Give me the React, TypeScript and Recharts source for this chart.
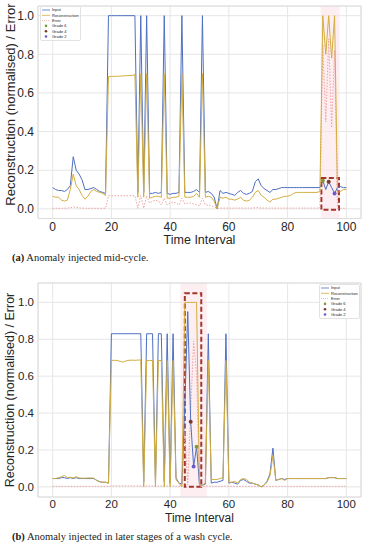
import React from 'react';
import {
  ComposedChart,
  Line,
  Scatter,
  XAxis,
  YAxis,
  CartesianGrid,
  ReferenceArea,
} from 'recharts';

// (a) anomaly injected mid-cycle, one value per time interval 0..100
const inputA = [
  0.11, 0.10, 0.095, 0.095, 0.09, 0.10, 0.12, 0.27, 0.20, 0.18,
  0.15, 0.10, 0.10, 0.105, 0.11, 0.10, 0.09, 0.085, 0.08, 1.0,
  1.0, 1.0, 1.0, 1.0, 1.0, 1.0, 1.0, 1.0, 1.0, 0.085,
  1.0, 0.085, 1.0, 0.08, 0.08, 0.085, 0.08, 0.085, 1.0, 0.08,
  0.075, 0.08, 0.08, 0.085, 1.0, 0.085, 0.085, 0.085, 0.09, 0.10,
  0.085, 1.0, 0.085, 0.09, 0.08, 0.06, 0.0, 0.095, 0.08, 0.085,
  0.08, 0.075, 0.07, 0.085, 0.095, 0.08, 0.075, 0.08, 0.09, 0.14,
  0.155, 0.12, 0.105, 0.095, 0.085, 0.10, 0.10, 0.105, 0.11, 0.11,
  0.11, 0.11, 0.11, 0.11, 0.11, 0.11, 0.11, 0.11, 0.11, 0.11,
  0.11, 0.11, 0.145, 0.10, 0.14, 0.11, 0.08, 0.11, 0.115, 0.11,
  0.11,
];
const reconA = [
  0.065, 0.06, 0.06, 0.045, 0.04, 0.045, 0.10, 0.18, 0.12, 0.10,
  0.07, 0.05, 0.065, 0.09, 0.10, 0.09, 0.085, 0.08, 0.07, 0.685,
  0.685, 0.686, 0.686, 0.687, 0.688, 0.689, 0.69, 0.69, 0.695, 0.06,
  0.70, 0.06, 0.70, 0.055, 0.06, 0.065, 0.065, 0.06, 0.70, 0.055,
  0.055, 0.06, 0.06, 0.065, 0.70, 0.06, 0.06, 0.06, 0.065, 0.08,
  0.06, 0.70, 0.06, 0.065, 0.06, 0.04, 0.0, 0.06, 0.055, 0.06,
  0.05, 0.05, 0.045, 0.05, 0.06, 0.045, 0.04, 0.045, 0.06, 0.085,
  0.095, 0.07, 0.06, 0.045, 0.035, 0.05, 0.05, 0.055, 0.06, 0.065,
  0.065, 0.07, 0.08, 0.085, 0.085, 0.085, 0.085, 0.085, 0.085, 0.085,
  0.085, 0.09, 1.0, 0.80, 1.0, 0.78, 1.0, 0.085, 0.09, 0.10,
  0.10,
];
const errorA = [
  0.003, 0.003, 0.003, 0.003, 0.003, 0.004, 0.006, 0.01, 0.008, 0.005,
  0.004, 0.003, 0.003, 0.003, 0.003, 0.003, 0.003, 0.003, 0.003, 0.068,
  0.068, 0.068, 0.068, 0.068, 0.068, 0.068, 0.068, 0.068, 0.068, 0.003,
  0.068, 0.003, 0.068, 0.03, 0.04, 0.045, 0.04, 0.02, 0.055, 0.02,
  0.03, 0.035, 0.03, 0.02, 0.055, 0.025, 0.03, 0.03, 0.025, 0.02,
  0.015, 0.055, 0.02, 0.02, 0.015, 0.01, 0.003, 0.004, 0.004, 0.004,
  0.004, 0.004, 0.004, 0.004, 0.004, 0.004, 0.004, 0.004, 0.004, 0.006,
  0.006, 0.004, 0.004, 0.004, 0.004, 0.004, 0.004, 0.004, 0.004, 0.004,
  0.004, 0.004, 0.004, 0.004, 0.004, 0.004, 0.004, 0.004, 0.004, 0.004,
  0.004, 0.004, 0.85, 0.45, 0.88, 0.42, 0.82, 0.003, 0.003, 0.003,
  0.003,
];
const grade6A = [{ t: 92, v: 0.145 }];
const grade4A = [{ t: 94, v: 0.14 }];
const grade2A = [{ t: 96, v: 0.08 }];

// (b) anomaly injected in later stages of a wash cycle
const inputB = [
  0.045, 0.045, 0.045, 0.05, 0.05, 0.045, 0.05, 0.045, 0.05, 0.045,
  0.045, 0.045, 0.045, 0.045, 0.045, 0.035, 0.028, 0.025, 0.025, 0.02,
  0.83, 0.83, 0.83, 0.83, 0.83, 0.83, 0.83, 0.83, 0.83, 0.83,
  0.83, 0.025, 0.83, 0.83, 0.83, 0.02, 0.83, 0.83, 0.03, 0.83,
  0.02, 0.83, 0.05, 0.02, 0.015, 0.45, 0.95, 0.353, 0.11, 0.218,
  0.01, 0.01, 0.015, 0.83, 0.02, 0.025, 0.025, 0.03, 0.035, 0.83,
  0.02, 0.025, 0.02, 0.015, 0.035, 0.04, 0.03, 0.02, 0.02, 0.015,
  0.01, 0.0, 0.01, 0.03, 0.07, 0.21, 0.035, 0.04, 0.045, 0.04,
  0.045, 0.045, 0.045, 0.045, 0.045, 0.045, 0.045, 0.045, 0.045, 0.045,
  0.045, 0.045, 0.045, 0.045, 0.05, 0.05, 0.05, 0.045, 0.045, 0.045,
  0.045,
];
const reconB = [
  0.045, 0.045, 0.05, 0.055, 0.062, 0.05, 0.052, 0.048, 0.055, 0.048,
  0.047, 0.047, 0.048, 0.048, 0.047, 0.035, 0.028, 0.025, 0.025, 0.02,
  0.685, 0.686, 0.685, 0.68, 0.676, 0.683, 0.686, 0.687, 0.686, 0.687,
  0.688, 0.0, 0.685, 0.685, 0.685, 0.0, 0.685, 0.685, 0.0, 0.685,
  0.0, 0.685, 0.04, 0.02, 0.0, 1.0, 1.0, 1.0, 1.0, 1.0,
  0.01, 0.01, 0.02, 0.685, 0.04, 0.04, 0.04, 0.045, 0.05, 0.685,
  0.025, 0.025, 0.03, 0.02, 0.04, 0.045, 0.04, 0.025, 0.02, 0.015,
  0.01, 0.0, 0.01, 0.025, 0.06, 0.17, 0.035, 0.04, 0.045, 0.035,
  0.045, 0.045, 0.045, 0.045, 0.045, 0.045, 0.045, 0.045, 0.045, 0.045,
  0.045, 0.045, 0.045, 0.045, 0.05, 0.05, 0.05, 0.045, 0.045, 0.045,
  0.045,
];
const errorB = [
  0.003, 0.003, 0.003, 0.003, 0.003, 0.003, 0.003, 0.003, 0.003, 0.003,
  0.003, 0.003, 0.003, 0.003, 0.003, 0.003, 0.003, 0.003, 0.003, 0.003,
  0.005, 0.005, 0.005, 0.005, 0.005, 0.005, 0.005, 0.005, 0.005, 0.005,
  0.005, 0.003, 0.005, 0.005, 0.005, 0.003, 0.005, 0.005, 0.003, 0.005,
  0.003, 0.005, 0.003, 0.003, 0.003, 0.30, 0.01, 0.42, 0.79, 0.61,
  0.003, 0.003, 0.003, 0.005, 0.003, 0.003, 0.003, 0.003, 0.003, 0.005,
  0.003, 0.003, 0.003, 0.003, 0.003, 0.003, 0.003, 0.003, 0.003, 0.003,
  0.003, 0.003, 0.003, 0.003, 0.003, 0.003, 0.003, 0.003, 0.003, 0.003,
  0.003, 0.003, 0.003, 0.003, 0.003, 0.003, 0.003, 0.003, 0.003, 0.003,
  0.003, 0.003, 0.003, 0.003, 0.003, 0.003, 0.003, 0.003, 0.003, 0.003,
  0.003,
];
const grade6B = [{ t: 49, v: 0.218 }];
const grade4B = [{ t: 47, v: 0.353 }];
const grade2B = [{ t: 48, v: 0.11 }];

const xTicks = [0, 20, 40, 60, 80, 100];
const yTicks = [0, 0.2, 0.4, 0.6, 0.8, 1.0];
const legendNames = ['Input', 'Reconstruction', 'Error', 'Grade 6', 'Grade 4', 'Grade 2'];

const C_INPUT = '#4e6fc2';
const C_RECON = '#d3ae3e';
const C_ERROR = '#eea3a3';
const C_G6 = '#7f9a3c';
const C_G4 = '#7a3a2a';
const C_G2 = '#6a5acd';
const C_BOX = '#a3352a';
const TEXT = '#262626';
const SANS = '"Liberation Sans", Arial, sans-serif';

const buildRows = (inp: number[], rec: number[], err: number[]) =>
  inp.map((v, i) => ({ t: i, input: v, recon: rec[i], error: err[i] }));

const dot = (color: string) => (p: any) => (
  <circle cx={p.cx} cy={p.cy} r={2} fill={color} />
);

// matplotlib-style legend box
const LegendBox = ({ left, top }: { left: number; top: number }) => {
  const step = 5.3;
  return (
    <svg width={42} height={36} style={{ position: 'absolute', left, top }}>
      <rect x={0.5} y={0.5} width={40} height={34} rx={1.5} fill="#fff" fillOpacity={0.85} stroke="#e2e2e2" />
      {legendNames.map((name, i) => {
        const y = 4 + i * step;
        let handle;
        if (i === 0) handle = <line x1={2} x2={10} y1={y} y2={y} stroke={C_INPUT} strokeWidth={0.8} />;
        else if (i === 1) handle = <line x1={2} x2={10} y1={y} y2={y} stroke={C_RECON} strokeWidth={0.8} />;
        else if (i === 2)
          handle = <line x1={2} x2={10} y1={y} y2={y} stroke={C_ERROR} strokeWidth={0.8} strokeDasharray="1 1" />;
        else handle = <circle cx={6} cy={y} r={1.3} fill={[C_G6, C_G4, C_G2][i - 3]} />;
        return (
          <g key={name}>
            {handle}
            <text x={12} y={y + 1.4} fontSize={4} fontFamily={SANS} fill={TEXT}>
              {name}
            </text>
          </g>
        );
      })}
    </svg>
  );
};

const yTitle = (cy: number, size: number) => () => (
  <text
    x={10}
    y={cy}
    transform={`rotate(-90 10 ${cy})`}
    textAnchor="middle"
    dominantBaseline="central"
    fontSize={size}
    fill={TEXT}
  >
    Reconstruction (normalised) / Error
  </text>
);

interface PanelProps {
  rows: any[];
  g6: any[];
  g4: any[];
  g2: any[];
  height: number;
  margin: { top: number; right: number; bottom: number; left: number };
  yDomain: [number, number];
  shade: [number, number];
  box: [number, number, number, number];
  font: number;
  titleY: number;
  tickGap: number;
  labelOffset: number;
}

const Panel = (p: PanelProps) => (
  <ComposedChart width={370} height={p.height} data={p.rows} margin={p.margin}>
    <ReferenceArea x1={p.shade[0]} x2={p.shade[1]} fill="#fbdde5" fillOpacity={0.5} stroke="none" />
    <CartesianGrid stroke="#e6e6e6" />
    <ReferenceArea
      x1={-5}
      x2={105}
      y1={p.yDomain[0]}
      y2={p.yDomain[1]}
      fill="none"
      stroke="#dcdcdc"
    />
    <XAxis
      dataKey="t"
      type="number"
      domain={[-5, 105]}
      ticks={xTicks}
      allowDataOverflow
      axisLine={false}
      tickLine={false}
      tickSize={0}
      tickMargin={p.tickGap}
      height={30}
      tick={{ fontSize: p.font, fill: TEXT }}
      label={{
        value: 'Time Interval',
        position: 'insideBottom',
        offset: p.labelOffset,
        fontSize: p.font + 0.5,
        fill: TEXT,
      }}
    />
    <YAxis
      type="number"
      domain={p.yDomain}
      ticks={yTicks}
      allowDataOverflow
      axisLine={false}
      tickLine={false}
      tickSize={0}
      tickMargin={4}
      width={38}
      tick={{ fontSize: p.font, fill: TEXT }}
      tickFormatter={(v: number) => v.toFixed(1)}
      label={{ content: yTitle(p.titleY, p.font + 1) }}
    />
    <Line dataKey="error" stroke={C_ERROR} strokeWidth={1} strokeDasharray="1.5 1.5" dot={false} isAnimationActive={false} />
    <Line dataKey="input" stroke={C_INPUT} strokeWidth={1} dot={false} isAnimationActive={false} />
    <Line dataKey="recon" stroke={C_RECON} strokeWidth={1} dot={false} isAnimationActive={false} />
    <Scatter data={p.g6} dataKey="v" shape={dot(C_G6)} isAnimationActive={false} />
    <Scatter data={p.g4} dataKey="v" shape={dot(C_G4)} isAnimationActive={false} />
    <Scatter data={p.g2} dataKey="v" shape={dot(C_G2)} isAnimationActive={false} />
    <ReferenceArea
      x1={p.box[0]}
      x2={p.box[1]}
      y1={p.box[2]}
      y2={p.box[3]}
      fill="none"
      stroke={C_BOX}
      strokeWidth={2}
      strokeDasharray="5 2.5"
    />
  </ComposedChart>
);

const caption: React.CSSProperties = {
  position: 'absolute',
  left: 12,
  fontFamily: '"Liberation Serif", "DejaVu Serif", serif',
  fontSize: 10.5,
  lineHeight: '12px',
  color: '#222',
  whiteSpace: 'nowrap',
};

export default function App() {
  const rowsA = buildRows(inputA, reconA, errorA);
  const rowsB = buildRows(inputB, reconB, errorB);
  return (
    <div
      style={{
        position: 'absolute',
        left: 0,
        top: 0,
        width: 370,
        height: 550,
        background: '#fff',
        fontFamily: SANS,
        overflow: 'hidden',
      }}
    >
      <div style={{ position: 'absolute', left: 0, top: 0 }}>
        <Panel
          rows={rowsA}
          g6={grade6A}
          g4={grade4A}
          g2={grade2A}
          height={250}
          margin={{ top: 6, right: 9, bottom: 1.5, left: 0 }}
          yDomain={[-0.05, 1.05]}
          shade={[91.3, 97.7]}
          box={[91.5, 97.5, -0.005, 0.16]}
          font={12}
          titleY={104.5}
          tickGap={3.5}
          labelOffset={4.5}
        />
      </div>
      <LegendBox left={40} top={6} />
      <div style={{ ...caption, top: 252 }}>
        <b>(a)</b> Anomaly injected mid-cycle.
      </div>

      <div style={{ position: 'absolute', left: 0, top: 275 }}>
        <Panel
          rows={rowsB}
          g6={grade6B}
          g4={grade4B}
          g2={grade2B}
          height={255}
          margin={{ top: 8, right: 9, bottom: 3, left: 0 }}
          yDomain={[-0.055, 1.105]}
          shade={[43.5, 52.5]}
          box={[45, 50.6, 0, 1.05]}
          font={11.5}
          titleY={115}
          tickGap={3}
          labelOffset={5}
        />
      </div>
      <LegendBox left={319} top={284} />
      <div style={{ ...caption, top: 531 }}>
        <b>(b)</b> Anomaly injected in later stages of a wash cycle.
      </div>
    </div>
  );
}
